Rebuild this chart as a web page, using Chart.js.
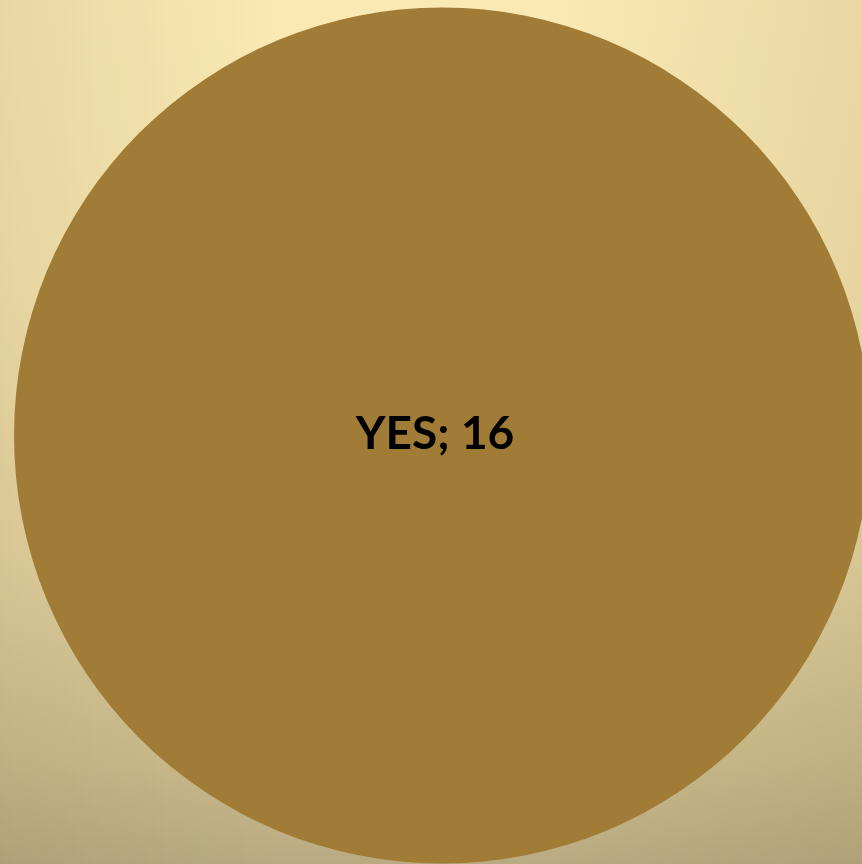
<!DOCTYPE html>
<html>
<head>
<meta charset="utf-8">
<script src="https://cdn.jsdelivr.net/npm/chart.js@4"></script>
<style>
  html, body { margin: 0; padding: 0; overflow: hidden; }
  body {
    width: 862px; height: 864px;
    background:
      linear-gradient(to right, rgba(110,90,50,0.12), rgba(110,90,50,0) 32%, rgba(110,90,50,0) 65%, rgba(110,90,50,0.12)),
      linear-gradient(to bottom, #FBE9B3 0%, #F6E5AF 35%, #E6D5A2 65%, #CBBC8D 88%, #B9AA82 100%);
  }
  #wrap { position: absolute; left: 0; top: 0; width: 884px; height: 864px; }
</style>
</head>
<body>
<div id="wrap"><canvas id="pieChart"></canvas></div>
<script>
var categorias = ['YES'];
var valores = [16];
var colores = ['#A07C36'];

// dibuja "CATEGORIA; valor" en el centro de cada sector
var etiquetas = {
    id: 'etiquetas',
    afterDatasetsDraw: function(chart){
        var ctx = chart.ctx;
        var meta = chart.getDatasetMeta(0);
        ctx.save();
        ctx.font = 'bold 46px Lato, "Open Sans", sans-serif';
        ctx.fillStyle = '#000000';
        ctx.textAlign = 'center';
        ctx.textBaseline = 'middle';
        meta.data.forEach(function(arc, i){
            var x, y;
            if (meta.data.length == 1) {
                x = arc.x; y = arc.y;
            } else {
                var p = arc.tooltipPosition();
                x = p.x; y = p.y;
            }
            ctx.fillText(categorias[i] + '; ' + valores[i], x - 7, y - 1);
        });
        ctx.restore();
    }
};

var ctx = document.getElementById('pieChart').getContext('2d');
var pieChart = new Chart(ctx, {
    type: 'pie',
    data: {
        labels: categorias,
        datasets: [{
            data: valores,
            backgroundColor: colores,
            borderWidth: 0
        }]
    },
    options: {
        responsive: true,
        maintainAspectRatio: false,
        animation: false,
        layout: { padding: { left: 14, right: 14, top: 7, bottom: 0 } },
        plugins: {
            legend: { display: false },
            tooltip: { enabled: false }
        }
    },
    plugins: [etiquetas]
});
</script>
</body>
</html>
